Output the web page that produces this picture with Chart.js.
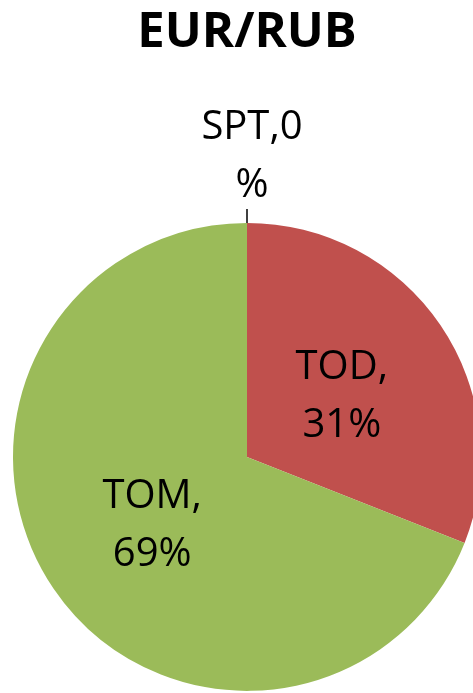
<!DOCTYPE html>
<html>
<head>
<meta charset="utf-8">
<script src="https://cdn.jsdelivr.net/npm/chart.js@4.4.1/dist/chart.umd.min.js"></script>
<style>
  html, body { margin: 0; padding: 0; background: #ffffff; overflow: hidden; }
  #wrap { position: relative; width: 473px; height: 693px; }
</style>
</head>
<body>
<div id="wrap"><canvas id="c"></canvas></div>
<script>
const chartTitle = 'EUR/RUB';
const categories = ['SPT', 'TOD', 'TOM'];
const shares = [0, 31, 69];
const sliceColors = ['#4F81BD', '#C0504D', '#9BBB59'];

const FONT = "'Open Sans', 'Liberation Sans', sans-serif";

const labelPlugin = {
  id: 'sliceLabels',
  afterDatasetsDraw(chart) {
    const ctx = chart.ctx;
    const meta = chart.getDatasetMeta(0);
    const data = chart.data.datasets[0].data;
    const total = data.reduce((a, b) => a + b, 0);
    ctx.save();
    ctx.font = '40px ' + FONT;
    ctx.fillStyle = '#000000';
    ctx.textAlign = 'center';
    ctx.textBaseline = 'middle';
    const lh = 58;
    const dy = 4;
    meta.data.forEach((arc, i) => {
      const p = arc.getProps(['x', 'y', 'startAngle', 'endAngle', 'outerRadius'], true);
      const pct = Math.round(data[i] / total * 100);
      if (data[i] === 0) {
        const a = p.startAngle;
        const ex = p.x + Math.cos(a) * p.outerRadius;
        const ey = p.y + Math.sin(a) * p.outerRadius;
        ctx.strokeStyle = '#000000';
        ctx.lineWidth = 1.5;
        ctx.beginPath();
        ctx.moveTo(ex, ey);
        ctx.lineTo(ex, ey - 14);
        ctx.stroke();
        const cx = ex + 5, cy = ey - 72 + 2;
        ctx.fillText(categories[i] + ',' + pct, cx, cy - lh / 2 + dy);
        ctx.fillText('%', cx, cy + lh / 2 + dy);
      } else {
        const mid = (p.startAngle + p.endAngle) / 2;
        const r = p.outerRadius * 0.49;
        const cx = p.x + Math.cos(mid) * r;
        const cy = p.y + Math.sin(mid) * r;
        ctx.fillText(categories[i] + ',', cx, cy - lh / 2 + dy);
        ctx.fillText(pct + '%', cx, cy + lh / 2 + dy);
      }
    });
    ctx.restore();
  }
};

new Chart(document.getElementById('c'), {
  type: 'pie',
  data: {
    labels: categories,
    datasets: [{
      data: shares,
      backgroundColor: sliceColors,
      borderWidth: 0
    }]
  },
  options: {
    responsive: true,
    maintainAspectRatio: false,
    animation: false,
    radius: 234,
    layout: { padding: { left: 21, right: 0, top: 0, bottom: 0 } },
    plugins: {
      legend: { display: false },
      tooltip: { enabled: false },
      title: {
        display: true,
        text: chartTitle,
        color: '#000000',
        font: { family: FONT, size: 49, weight: 'bold', lineHeight: 1.2 },
        padding: { top: 4, bottom: 158 }
      }
    }
  },
  plugins: [labelPlugin]
});
</script>
</body>
</html>
